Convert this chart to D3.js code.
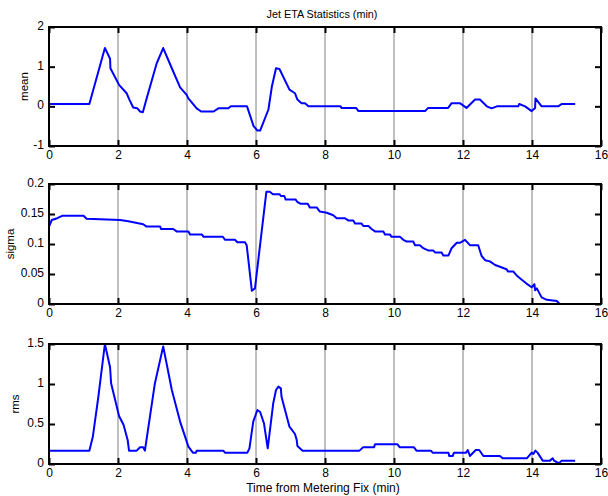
<!DOCTYPE html>
<html>
<head>
<meta charset="utf-8">
<script src="https://cdn.jsdelivr.net/npm/d3@7"></script>
<style>
	body { margin: 0; background: #fff; }
	svg { display: block; font-family: "Liberation Sans", Arial, sans-serif; }
</style>
</head>
<body>
<svg id="chart" width="608" height="496"></svg>
<script>
(function() {

// DATA

	var xTicks = [0, 2, 4, 6, 8, 10, 12, 14, 16];
	var meanTicks = [-1, 0, 1, 2];
	var sigmaTicks = [0, 0.05, 0.1, 0.15, 0.2];
	var rmsTicks = [0, 0.5, 1, 1.5];

	var meanX = [0, 1.17, 1.62, 1.77, 1.78, 2.03, 2.25, 2.33, 2.44, 2.56, 2.64, 2.72, 2.83, 3.12, 3.31, 3.56, 3.8, 3.99, 4.04, 4.28, 4.41, 4.77, 4.91, 5.2, 5.27, 5.74, 5.93, 6.04, 6.12, 6.36, 6.46, 6.58, 6.68, 6.97, 7.13, 7.2, 7.32, 7.42, 7.52, 8.45, 8.48, 8.9, 8.97, 10.9, 10.99, 11.57, 11.67, 11.91, 12.1, 12.35, 12.49, 12.69, 12.83, 12.98, 13.6, 13.63, 13.8, 13.99, 14.09, 14.1, 14.28, 14.76, 14.86, 15.25];
	var meanY = [0.06, 0.06, 1.47, 1.2, 0.96, 0.54, 0.33, 0.17, -0.03, -0.05, -0.13, -0.15, 0.2, 1.08, 1.47, 0.96, 0.48, 0.29, 0.2, -0.05, -0.13, -0.13, -0.05, -0.05, 0.0, 0.0, -0.5, -0.61, -0.61, -0.08, 0.5, 0.96, 0.94, 0.42, 0.33, 0.17, 0.08, 0.08, 0.0, 0.0, -0.04, -0.04, -0.12, -0.12, -0.04, -0.04, 0.08, 0.08, -0.04, 0.17, 0.17, 0.0, -0.05, 0.0, 0.0, 0.06, 0.0, -0.12, -0.04, 0.2, 0.0, 0.0, 0.06, 0.06];

	var sigmaX = [0, 0.08, 0.24, 0.38, 1.0, 1.09, 2.06, 2.3, 2.73, 2.83, 3.22, 3.25, 3.6, 3.7, 4.04, 4.09, 4.43, 4.48, 5.04, 5.1, 5.39, 5.46, 5.68, 5.73, 5.88, 5.97, 6.3, 6.4, 6.49, 6.68, 6.72, 6.82, 6.86, 7.15, 7.2, 7.3, 7.5, 7.56, 7.76, 7.85, 8.05, 8.24, 8.34, 8.58, 8.68, 8.82, 8.87, 9.06, 9.11, 9.26, 9.35, 9.45, 9.69, 9.74, 9.88, 9.93, 10.17, 10.27, 10.37, 10.56, 10.61, 10.75, 10.85, 11.0, 11.14, 11.19, 11.38, 11.43, 11.58, 11.67, 11.82, 11.91, 12.06, 12.2, 12.44, 12.54, 12.64, 12.78, 12.93, 13.07, 13.26, 13.31, 13.46, 13.55, 13.65, 13.84, 13.99, 14.07, 14.09, 14.14, 14.28, 14.43, 14.72, 14.8, 15.25];
	var sigmaY = [0.129, 0.14, 0.143, 0.147, 0.147, 0.142, 0.14, 0.138, 0.133, 0.129, 0.129, 0.125, 0.125, 0.121, 0.121, 0.116, 0.116, 0.112, 0.112, 0.107, 0.107, 0.103, 0.103, 0.098, 0.022, 0.026, 0.187, 0.187, 0.183, 0.183, 0.18, 0.18, 0.174, 0.174, 0.17, 0.167, 0.167, 0.161, 0.161, 0.154, 0.152, 0.148, 0.143, 0.143, 0.139, 0.139, 0.134, 0.134, 0.13, 0.13, 0.125, 0.121, 0.121, 0.116, 0.116, 0.112, 0.112, 0.107, 0.104, 0.104, 0.098, 0.098, 0.093, 0.089, 0.089, 0.086, 0.086, 0.081, 0.081, 0.093, 0.102, 0.102, 0.107, 0.098, 0.098, 0.08, 0.073, 0.071, 0.065, 0.062, 0.058, 0.054, 0.054, 0.048, 0.043, 0.034, 0.028, 0.033, 0.023, 0.026, 0.011, 0.007, 0.005, 0.0, 0.0];

	var rmsX = [0, 1.17, 1.27, 1.43, 1.62, 1.77, 1.8, 2.03, 2.16, 2.28, 2.32, 2.54, 2.64, 2.73, 2.78, 3.07, 3.31, 3.56, 3.8, 4.04, 4.17, 4.26, 4.28, 5.05, 5.1, 5.75, 5.81, 5.92, 6.04, 6.12, 6.23, 6.34, 6.5, 6.58, 6.65, 6.72, 6.74, 6.97, 7.13, 7.18, 7.2, 7.35, 9.0, 9.1, 9.42, 9.45, 10.1, 10.17, 10.58, 10.65, 11.07, 11.12, 11.58, 11.6, 11.7, 11.74, 12.09, 12.14, 12.2, 12.37, 12.47, 12.59, 13.07, 13.15, 13.85, 13.99, 14.04, 14.1, 14.16, 14.31, 14.52, 14.6, 14.64, 14.74, 14.8, 14.86, 15.25];
	var rmsY = [0.167, 0.167, 0.34, 0.84, 1.5, 1.21, 1.01, 0.6, 0.49, 0.3, 0.167, 0.167, 0.21, 0.21, 0.167, 1.01, 1.47, 0.925, 0.53, 0.217, 0.142, 0.142, 0.167, 0.167, 0.142, 0.142, 0.196, 0.53, 0.675, 0.65, 0.51, 0.196, 0.76, 0.925, 0.967, 0.946, 0.84, 0.467, 0.375, 0.3, 0.225, 0.167, 0.167, 0.208, 0.208, 0.246, 0.246, 0.208, 0.208, 0.167, 0.167, 0.142, 0.142, 0.1, 0.1, 0.142, 0.142, 0.175, 0.1, 0.175, 0.175, 0.1, 0.1, 0.071, 0.071, 0.142, 0.125, 0.167, 0.142, 0.042, 0.042, 0.071, 0.042, 0.017, 0.017, 0.042, 0.042];

// LAYOUT

	var left = 49, right = 601;
	var panels = [
		{ xs: meanX, ys: meanY, ticks: meanTicks, domain: [-1, 2], top: 27, bottom: 146, label: "mean", labelX: 24 },
		{ xs: sigmaX, ys: sigmaY, ticks: sigmaTicks, domain: [0, 0.2], top: 184, bottom: 304, label: "sigma", labelX: 10 },
		{ xs: rmsX, ys: rmsY, ticks: rmsTicks, domain: [0, 1.5], top: 344, bottom: 464, label: "rms", labelX: 15 }
	];

	var svg = d3.select('#chart');
	var x = d3.scaleLinear().domain([0, 16]).range([left, right]);
	var tickFont = '12px';

	function drawPanel(p) {
		var y = d3.scaleLinear().domain(p.domain).range([p.bottom, p.top]);
		var g = svg.append('g');

		// grid, vertical only
		g.selectAll('.grid')
			.data(xTicks.slice(1, -1))
			.enter().append('line')
			.attr('x1', function(d) { return x(d); })
			.attr('x2', function(d) { return x(d); })
			.attr('y1', p.top).attr('y2', p.bottom)
			.attr('stroke', '#808080').attr('stroke-width', 1);

		var line = d3.line()
			.x(function(d) { return x(d[0]); })
			.y(function(d) { return y(d[1]); });
		g.append('path')
			.datum(d3.zip(p.xs, p.ys))
			.attr('d', line)
			.attr('fill', 'none')
			.attr('stroke', '#0000ff')
			.attr('stroke-width', 2)
			.attr('stroke-linejoin', 'round');

		// axes with inward ticks
		var fmt = function(d) { return String(d); };
		var bx = g.append('g').attr('transform', 'translate(0,' + p.bottom + ')')
			.call(d3.axisBottom(x).tickValues(xTicks).tickSizeInner(-6).tickSizeOuter(0).tickPadding(4.5).tickFormat(fmt));
		var tx = g.append('g').attr('transform', 'translate(0,' + p.top + ')')
			.call(d3.axisTop(x).tickValues(xTicks).tickSizeInner(-6).tickSizeOuter(0).tickFormat(''));
		var ly = g.append('g').attr('transform', 'translate(' + left + ',0)')
			.call(d3.axisLeft(y).tickValues(p.ticks).tickSizeInner(-6).tickSizeOuter(0).tickPadding(5).tickFormat(fmt));
		var ry = g.append('g').attr('transform', 'translate(' + right + ',0)')
			.call(d3.axisRight(y).tickValues(p.ticks).tickSizeInner(-6).tickSizeOuter(0).tickFormat(''));

		[bx, tx, ly, ry].forEach(function(a) {
			a.select('.domain').remove();
			a.selectAll('.tick line').attr('stroke', '#000').attr('stroke-width', 2);
			a.selectAll('.tick text').attr('fill', '#000').style('font-size', tickFont)
				.style('font-family', '"Liberation Sans", Arial, sans-serif');
		});
		ly.selectAll('.tick text').attr('dy', '0.22em');

		g.append('rect')
			.attr('x', left).attr('y', p.top)
			.attr('width', right - left).attr('height', p.bottom - p.top)
			.attr('fill', 'none').attr('stroke', '#000').attr('stroke-width', 2);

		g.append('text')
			.attr('transform', 'translate(' + p.labelX + ',' + ((p.top + p.bottom) / 2) + ') rotate(-90)')
			.attr('text-anchor', 'middle')
			.attr('dy', '0.35em')
			.style('font-size', '11.5px')
			.text(p.label);
	}

	panels.forEach(drawPanel);

	svg.append('text')
		.attr('x', 322).attr('y', 18)
		.attr('text-anchor', 'middle')
		.style('font-size', '10.8px')
		.text('Jet ETA Statistics (min)');

	svg.append('text')
		.attr('x', 323).attr('y', 492)
		.attr('text-anchor', 'middle')
		.style('font-size', '12px')
		.text('Time from Metering Fix (min)');
})()
</script>
</body>
</html>
